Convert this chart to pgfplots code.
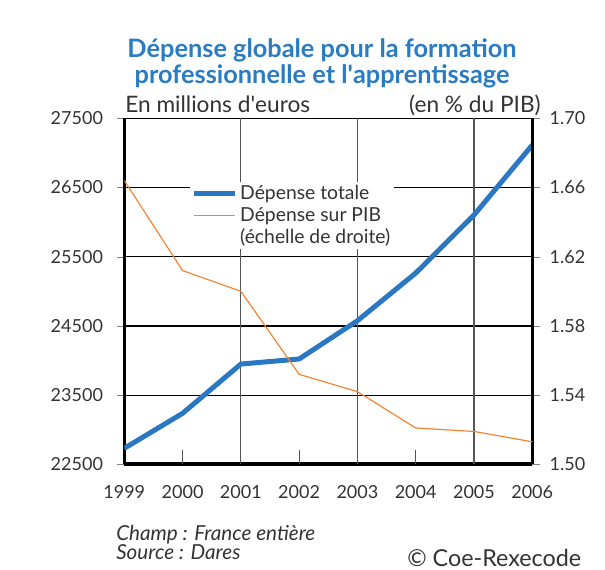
\documentclass[border=0pt]{standalone}
\usepackage{fontspec}
\setmainfont{Lato}
\usepackage{pgfplots}
\pgfplotsset{compat=1.18}
\definecolor{txt}{HTML}{333333}
\definecolor{titleblue}{HTML}{2A7BC1}
\definecolor{lineblue}{HTML}{2A78C2}
\definecolor{lineorange}{HTML}{F08535}
\definecolor{vgrid}{HTML}{555555}

\pgfplotsset{
  common/.style={
    at={(93.225pt,-348.225pt)}, anchor=south west,
    scale only axis, width=306pt, height=259.5pt,
    xmin=1999, xmax=2006,
    scaled ticks=false,
    /pgf/number format/1000 sep={},
    /pgf/number format/assume math mode=true,
    tick label style={font=\fontsize{13.5}{16}\selectfont, text=txt},
    major tick length=5.5pt,
    ytick align=outside,
  },
}

\begin{document}
\begin{tikzpicture}
\begin{scope}[x=0.75pt,y=-0.75pt]
  \path (0,0) rectangle (605,569);
  \node[anchor=base, text=titleblue, font=\fontsize{19}{22}\selectfont\bfseries] at (322,57) {Dépense globale pour la formation};
  \node[anchor=base, text=titleblue, font=\fontsize{19}{22}\selectfont\bfseries] at (322,83) {professionnelle et l\textquotesingle apprentissage};
  \node[anchor=base west, inner sep=0pt, text=txt, font=\fontsize{17}{20}\selectfont] at (125,112) {En millions d\textquotesingle euros};
  \node[anchor=base east, inner sep=0pt, text=txt, font=\fontsize{17}{20}\selectfont] at (541,112) {(en \% du PIB)};
  \node[anchor=base west, inner sep=0pt, text=txt, font=\fontsize{15.5}{18}\selectfont\itshape] at (116,540) {Champ : France entière};
  \node[anchor=base west, inner sep=0pt, text=txt, font=\fontsize{15.5}{18}\selectfont\itshape] at (116,559) {Source : Dares};
  \node[anchor=base west, inner sep=0pt, text=txt, font=\fontsize{17.5}{20}\selectfont] at (407,566) {© Coe-Rexecode};
\end{scope}

% left axis: total spending (millions of euros)
\begin{axis}[
  common,
  ymin=22500, ymax=27500,
  axis x line*=bottom, axis y line*=left,
  x axis line style={-, line width=3pt},
  y axis line style={-, line width=2.7pt},
  xtick={1999,...,2006},
  xtick style={draw=none},
  xticklabel style={yshift=-12pt},
  extra x ticks={2001,2003,2005},
  extra x tick labels={},
  extra x tick style={grid=major, major grid style={vgrid, line width=0.9pt}, tick style={draw=none}},
  ytick={22500,23500,...,27500},
  ymajorgrids,
  major grid style={black, line width=0.9pt},
  yticklabel style={xshift=-7pt},
]
\addplot[lineblue, line width=3.75pt, line join=round] coordinates {
  (1999,22731)(2000,23237)(2001,23949)(2002,24022)
  (2003,24575)(2004,25264)(2005,26103)(2006,27114)};
\pgfplotsinvokeforeach{2000,2002,2004}{
  \draw[vgrid, line width=0.9pt] (axis cs:#1,22500) -- ([yshift=10.5pt]axis cs:#1,22500);
}
\end{axis}

% right axis: share of GDP
\begin{axis}[
  common,
  ymin=1.50, ymax=1.70,
  axis x line=none, axis y line*=right,
  y axis line style={-, line width=2.7pt},
  ytick={1.50,1.54,...,1.70},
  yticklabel style={/pgf/number format/fixed, /pgf/number format/fixed zerofill, /pgf/number format/precision=2, xshift=4pt},
  legend style={at={(0.16,0.818)}, anchor=north west, fill=white, draw=none,
    font=\fontsize{14.5}{17}\selectfont, text=txt, row sep=0pt, inner sep=1pt},
  legend cell align=left,
  legend image code/.code={\draw[#1] (0pt,0pt) -- (31pt,0pt);},
]
\addlegendimage{lineblue, line width=3.75pt}
\addplot[lineorange, line width=0.9pt] coordinates {
  (1999,1.664)(2000,1.612)(2001,1.600)(2002,1.552)
  (2003,1.542)(2004,1.521)(2005,1.519)(2006,1.513)};
\addlegendimage{empty legend}
\legend{Dépense totale, Dépense sur PIB, (échelle de droite)}
\end{axis}
\end{tikzpicture}
\end{document}
